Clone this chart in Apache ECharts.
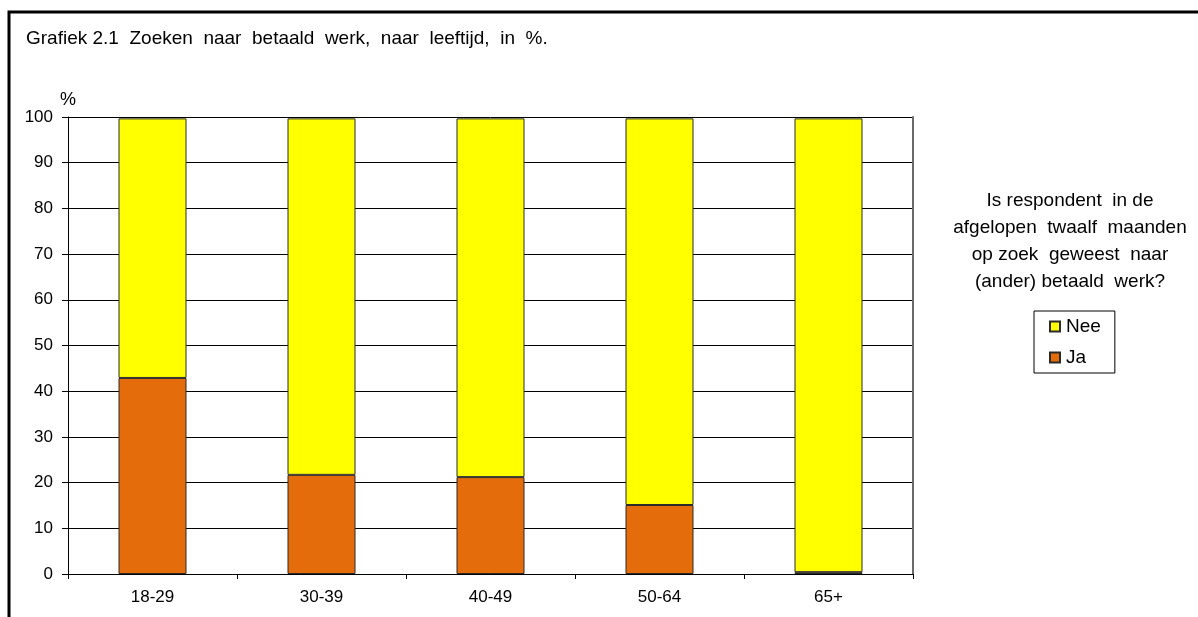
<!DOCTYPE html>
<html>
<head>
<meta charset="utf-8">
<script src="https://cdn.jsdelivr.net/npm/echarts@6/dist/echarts.min.js"></script>
<style>html,body{margin:0;padding:0;background:#fff;}#c{width:1198px;height:617px;}</style>
</head>
<body>
<div id="c"></div>
<script>
var categories = ['18-29', '30-39', '40-49', '50-64', '65+'];
var jaValues = [42.9, 21.7, 21.2, 15.1, 0.4];
var neeValues = [56.8, 78.0, 78.5, 84.6, 99.3];
var yTicks = { min: 0, max: 100, interval: 10 };
var titleText = 'Grafiek 2.1  Zoeken  naar  betaald  werk,  naar  leeftijd,  in  %.';
var legendTitle = 'Is respondent  in de\nafgelopen  twaalf  maanden\nop zoek  geweest  naar\n(ander) betaald  werk?';

var FONT = 'Liberation Sans, Arial, sans-serif';
var chart = echarts.init(document.getElementById('c'), null, { renderer: 'canvas' });
chart.setOption({
  animation: false,
  backgroundColor: '#fff',
  grid: { left: 68, right: 285, top: 117, bottom: 43, containLabel: false },
  graphic: [
    { type: 'rect', shape: { x: 9, y: 12, width: 1400, height: 800 }, style: { fill: 'none', stroke: '#000', lineWidth: 3 }, z: 100 },
    { type: 'text', left: 26, top: 29, style: { text: titleText, font: '19px ' + FONT, fill: '#000' } },
    { type: 'text', x: 1070, y: 187, style: { text: legendTitle, font: '19px ' + FONT, fill: '#000', align: 'center', verticalAlign: 'top', lineHeight: 27 } }
  ],
  legend: {
    orient: 'vertical',
    left: 1034, top: 311,
    data: ['Nee', 'Ja'],
    itemWidth: 10, itemHeight: 10, itemGap: 12,
    padding: [6, 14, 6, 15],
    borderColor: '#000', borderWidth: 1,
    textStyle: { fontSize: 19, fontFamily: FONT, color: '#000', padding: [0, 0, 0, 1] },
    icon: 'rect'
  },
  xAxis: {
    type: 'category',
    data: categories,
    axisLine: { lineStyle: { color: '#000', width: 1 } },
    axisTick: { show: true, length: 5, alignWithLabel: false, lineStyle: { color: '#000' } },
    axisLabel: { fontSize: 17, fontFamily: FONT, color: '#000', margin: 15 }
  },
  yAxis: [{
    type: 'value',
    min: yTicks.min, max: yTicks.max, interval: yTicks.interval,
    name: '%', nameLocation: 'end', nameGap: 8,
    nameTextStyle: { fontSize: 18, fontFamily: FONT, color: '#000', align: 'center' },
    axisLine: { show: true, lineStyle: { color: '#000', width: 1 } },
    axisTick: { show: true, length: 6, lineStyle: { color: '#000' } },
    axisLabel: { fontSize: 17, fontFamily: FONT, color: '#000', margin: 15 },
    splitLine: { show: true, lineStyle: { color: '#000', width: 1 } }
  }, {
    type: 'value', position: 'right',
    min: yTicks.min, max: yTicks.max, interval: yTicks.interval,
    axisLine: { show: true, lineStyle: { color: '#6a6a6a', width: 2 } },
    axisTick: { show: false }, axisLabel: { show: false }, splitLine: { show: false }
  }],
  series: [
    { name: 'Ja', type: 'bar', stack: 't', data: jaValues, barWidth: 68,
      itemStyle: { color: '#E46C0A', borderColor: '#2a2a2a', borderWidth: 1 } },
    { name: 'Nee', type: 'bar', stack: 't', data: neeValues, barWidth: 68,
      itemStyle: { color: '#FFFF00', borderColor: '#2a2a2a', borderWidth: 1 } }
  ]
});
</script>
</body>
</html>
